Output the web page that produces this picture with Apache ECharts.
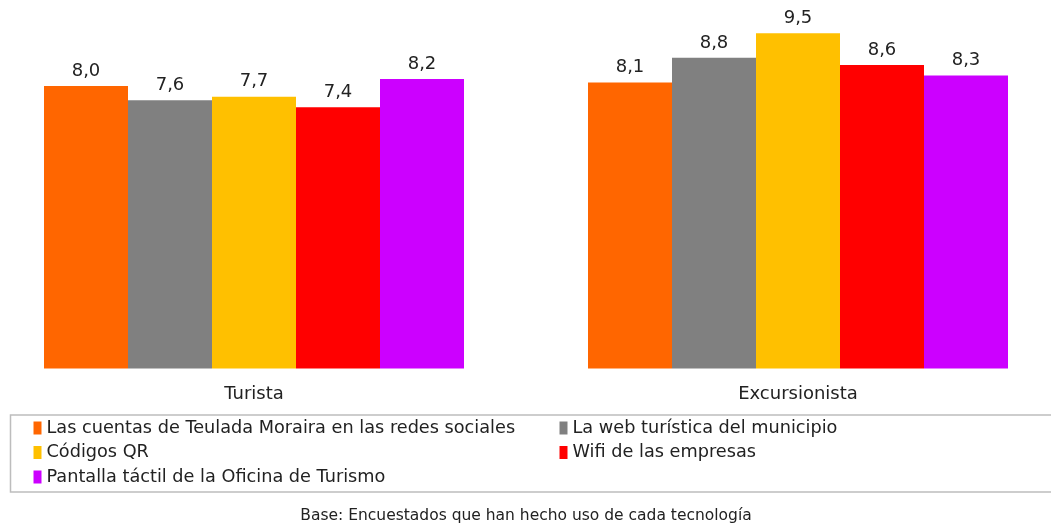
<!DOCTYPE html>
<html><head><meta charset="utf-8">
<script src="https://cdn.jsdelivr.net/npm/echarts@6/dist/echarts.min.js"></script>
<style>html,body{margin:0;padding:0;background:#fff;overflow:hidden;width:1051px;height:526px}
#c{position:absolute;left:-18.5px;top:0;width:1088px;height:526px}</style>
</head><body><div id="c"></div>
<script>
const categories = ['Turista', 'Excursionista'];
const seriesNames = [
  'Las cuentas de Teulada Moraira en las redes sociales',
  'La web turística del municipio',
  'Códigos QR',
  'Wifi de las empresas',
  'Pantalla táctil de la Oficina de Turismo'
];
const redesSociales = [8.0, 8.1];
const webTuristica = [7.6, 8.8];
const codigosQR = [7.7, 9.5];
const wifiEmpresas = [7.4, 8.6];
const pantallaTactil = [8.2, 8.3];
const colors = ['#FF6600', '#808080', '#FFC000', '#FF0000', '#CC00FF'];
const footnote = 'Base: Encuestados que han hecho uso de cada tecnología';

const FONT = '"DejaVu Sans", sans-serif';
const OFF = 18.5; // container is shifted left by this amount
const values = [redesSociales, webTuristica, codigosQR, wifiEmpresas, pantallaTactil];

const legendCommon = {
  orient: 'vertical', top: 418, padding: 0,
  itemWidth: 8, itemHeight: 13, itemGap: 4.5, icon: 'rect',
  textStyle: { fontSize: 17.7, color: '#222', lineHeight: 20, fontFamily: FONT }
};

const chart = echarts.init(document.getElementById('c'));
chart.setOption({
  animation: false,
  textStyle: { fontFamily: FONT },
  grid: { left: 0, right: 0, top: 15.5, bottom: 157.5, containLabel: false },
  xAxis: {
    type: 'category', data: categories,
    axisLine: { show: false }, axisTick: { show: false },
    axisLabel: { fontSize: 18, color: '#222', margin: 17, fontFamily: FONT }
  },
  yAxis: { type: 'value', min: 0, max: 10, show: false, splitLine: { show: false } },
  legend: [
    Object.assign({}, legendCommon, { left: 33 + OFF, data: [seriesNames[0], seriesNames[2], seriesNames[4]] }),
    Object.assign({}, legendCommon, { left: 559 + OFF, data: [seriesNames[1], seriesNames[3]] })
  ],
  graphic: [
    { type: 'rect', shape: { x: 10 + OFF, y: 415, width: 1060, height: 77 },
      style: { fill: 'none', stroke: '#bdbdbd', lineWidth: 1.5 }, silent: true },
    { type: 'text', x: 525.5 + OFF, y: 516,
      style: { text: footnote, fontSize: 15.5, fill: '#222', align: 'center', verticalAlign: 'middle', fontFamily: FONT } }
  ],
  series: seriesNames.map((n, i) => ({
    name: n, type: 'bar', data: values[i], barWidth: 84, barGap: '0%',
    itemStyle: { color: colors[i] },
    label: { show: true, position: 'top', distance: 6, fontSize: 18, color: '#222', fontFamily: FONT,
      formatter: p => p.value.toFixed(1).replace('.', ',') }
  }))
});
</script></body></html>
